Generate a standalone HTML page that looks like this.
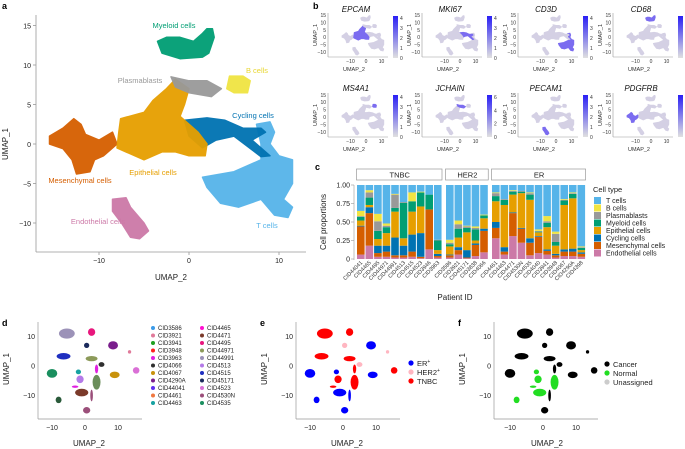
<!DOCTYPE html>
<html><head><meta charset="utf-8"><style>
html,body{margin:0;padding:0;background:#fff;}
svg{display:block;font-family:"Liberation Sans",sans-serif;}
</style></head><body>
<svg id="fig" width="685" height="449" viewBox="0 0 685 449" xmlns="http://www.w3.org/2000/svg">
<g id="pa"></g>
<g id="pb"></g>
<g id="pc"></g>
<g id="pd"></g>
<g id="pe"></g>
<g id="pf"></g>
</svg>
<script>
// ---------- panel c data ----------
const patients = ["CID44041","CID4465","CID4495","CID44971","CID44991","CID4513","CID4515","CID4523","CID3946","CID3963",
 "CID3586","CID3921","CID45171","CID3838","CID4066",
 "CID4461","CID4463","CID4471","CID4530N","CID4535","CID4040","CID3941","CID3948","CID4067","CID4290A","CID4398"];
const subtypes = ["TNBC","HER2","ER"];
const subtypeCounts = [10,5,11];
const cellTypes = ["T cells","B cells","Plasmablasts","Myeloid cells","Epithelial cells","Cycling cells","Mesenchymal cells","Endothelial cells"];
const endoVals = [.06,.18,.03,.03,.02,.02,.03,.01,.13,.02, .02,.06,.01,.04,.09, .28,.06,.31,.22,.05,.08,.06,.02,.04,.04,.03];
const mesVals  = [.38,.44,.05,.07,.03,.03,.07,.02,.54,.02, .03,.06,.01,.15,.29, .14,.04,.31,.19,.17,.22,.05,.03,.06,.06,.04];
const cycVals  = [.01,.08,.10,.08,.24,.13,.23,.32,0,.03, .01,.04,.10,.02,.03, .08,.06,.01,.01,.06,.01,.02,.02,.03,.04,.02];
const epiVals  = [.07,.03,.09,.17,.35,.10,.31,.36,0,.05, .11,.13,.24,.04,.14, .28,.57,.24,.47,.52,.05,.30,.11,.60,.68,.03];
const myeVals  = [.05,.10,.11,.08,.05,.48,.14,.19,.20,.13, .03,.12,.06,.15,.04, .07,.07,.04,.02,.07,.01,.06,.05,.06,.06,.03];
const plaVals  = [.01,.07,.13,.02,.18,.01,0,0,0,.01, .02,.06,.02,.02,0, .04,.01,.01,.01,.02,.01,.02,.11,.01,.01,.01];
const bVals    = [.07,.03,.10,.03,.01,0,.12,.01,0,0, .04,.05,.01,.02,.01, .01,0,.01,0,.01,.02,.07,.03,.01,.01,.01];
const yTicks = [0,0.25,0.5,0.75,1];
const yTickLabels = ["0","0.25","0.50","0.75","1.00"];

const NS="http://www.w3.org/2000/svg";
function mk(tag,attrs,parent,text){const e=document.createElementNS(NS,tag);for(const k in attrs)e.setAttribute(k,attrs[k]);if(text!==undefined)e.textContent=text;parent.appendChild(e);return e;}

const COL={T:"#56B4E9",B:"#F0E442",P:"#999999",M:"#009E73",Ep:"#E69F00",C:"#0072B2",Me:"#D55E00",En:"#CC79A7"};

// ---------- cluster polygons (UMAP coords) ----------
const clusters = {
 Me:[[-15.5,1],[-14,2],[-12.8,3.2],[-12,2.5],[-11.5,1.2],[-10,0.5],[-8.5,1.5],[-8,0],[-9.5,-1.5],[-10.5,-2],[-11,-3.5],[-12.5,-3.8],[-13,-2],[-14,-0.6],[-15.5,0]],
 Ep:[[-7.6,3.2],[-5,4],[-4,5.5],[-2.5,7],[-1.5,8.2],[0,7],[-0.5,5],[-1,3.5],[1,1.5],[2,0],[1.8,-1.5],[0,-1.5],[-1.5,-1],[-3,-1],[-5,-2],[-7,-1],[-8,-0.5],[-7.8,1.5]],
 C:[[-0.5,3],[2,3.3],[4,3],[6,2],[8,2],[8.5,1.5],[7,0.5],[9,-1.5],[8,-1.6],[5,1],[3,0.5],[1.5,-0.5],[0,1]],
 T:[[7.5,2.5],[9,2.8],[9.5,1.5],[9,0],[10,-1.5],[11.5,-2],[11.5,-5],[10.5,-7],[11.5,-8],[11,-9.3],[9.5,-9],[8,-7],[5.5,-8],[3.5,-7.5],[2,-5.5],[1.5,-4.2],[5,-3.5],[8,-2],[8,0]],
 M:[[-3.5,13],[-2.5,13.5],[-1,13.5],[0.5,13],[1.5,14],[2,14.6],[2.6,14.6],[2.8,13.5],[2.2,11.5],[1.5,11],[-1,10.8],[-3,11.5]],
 P:[[-2,8.5],[0,8],[2,8],[3.6,7],[2.5,6],[0,6.5],[-1.5,7.2]],
 B:[[4.5,8.6],[6,8.6],[6.8,8],[6.5,6.5],[5,6.5],[4.2,7]],
 En:[[-8.5,-7],[-7,-6.8],[-6.5,-8],[-5,-10],[-4.5,-11],[-5.5,-12],[-6.5,-11.8],[-7.5,-10],[-8.5,-8.5]]
};
const clusterOrder=["Me","T","C","Ep","P","M","B","En"];
const clusterNames={Me:"mesenchymal",T:"t-cells",C:"cycling",Ep:"epithelial",P:"plasmablasts",M:"myeloid",B:"b-cells",En:"endothelial"};
function pts(poly,fx,fy){return poly.map(p=>fx(p[0]).toFixed(1)+","+fy(p[1]).toFixed(1)).join(" ");}

// ---------- panel a ----------
(function(){
 const g=document.getElementById("pa");
 const x=u=>189+9*u, y=v=>144-7.9*v;
 mk("text",{x:2,y:9,"font-size":9,"font-weight":"bold"},g,"a");
 for(const k of clusterOrder){
  const p=mk("polygon",{points:pts(clusters[k],x,y),fill:COL[k],"stroke":COL[k],"stroke-width":1.5,"stroke-linejoin":"round",opacity:0.95},g);
  
  
 }
 mk("line",{x1:36,y1:15,x2:36,y2:252,stroke:"#999","stroke-width":0.8},g);
 mk("line",{x1:36,y1:252,x2:306,y2:252,stroke:"#999","stroke-width":0.8},g);
 [-10,-5,0,5,10,15].forEach(v=>{mk("line",{x1:33,x2:36,y1:y(v),y2:y(v),stroke:"#999","stroke-width":0.8},g);
  const t=mk("text",{x:31,y:y(v)+3,"font-size":7,"text-anchor":"end",fill:"#222"},g,v<0?"−"+(-v):v);});
 [-10,0,10].forEach(u=>{mk("line",{x1:x(u),x2:x(u),y1:252,y2:255,stroke:"#999","stroke-width":0.8},g);
  const t=mk("text",{x:x(u),y:263,"font-size":7,"text-anchor":"middle",fill:"#222"},g,u<0?"−"+(-u):u);});
 const xt=mk("text",{x:171,y:280,"font-size":8,"text-anchor":"middle",fill:"#222"},g,"UMAP_2");
 const yt=mk("text",{x:0,y:0,"font-size":8,"text-anchor":"middle",fill:"#222",transform:"translate(8,144) rotate(-90)"},g,"UMAP_1");
 const labs=[["Myeloid cells",174,28,COL.M],["B cells",257,73,"#E8D630"],["Plasmablasts",140,83,COL.P],["Cycling cells",253,118,COL.C],
  ["Epithelial cells",153,175,COL.Ep],["Mesenchymal cells",80,183,COL.Me],["T cells",267,228,COL.T],["Endothelial cells",98,224,COL.En]];
 labs.forEach(l=>{const t=mk("text",{x:l[1],y:l[2],"font-size":7.5,"text-anchor":"middle",fill:l[3]},g,l[0]);});
})();

// ---------- panel b ----------
(function(){
 const g=document.getElementById("pb");
 mk("text",{x:313,y:9,"font-size":9,"font-weight":"bold"},g,"b");
 const genes=[["EPCAM","Ep","4"],["MKI67","C","4"],["CD3D","T","4"],["CD68","M","4"],["MS4A1","B","4"],["JCHAIN","P","6"],["PECAM1","En","4"],["PDGFRB","Me","4"]];
 const x0s=[366,460,556,651];
 genes.forEach((gn,i)=>{
  const col=i%4,row=Math.floor(i/4);
  const X0=x0s[col], Y0=row?117:37.2, bot=row?137:57;
  const x=u=>X0+1.55*u, y=v=>Y0-1.48*v;
  const sg=mk("g",{},g);
  for(const k of clusterOrder){
   const hi=k===gn[1];
   mk("polygon",{points:pts(clusters[k],x,y),fill:hi?"#7b6cf0":"#d4d0e4",stroke:hi?"#7b6cf0":"#d4d0e4","stroke-width":0.8,"stroke-linejoin":"round"},sg);
  }
  const ax=X0-38;
  mk("line",{x1:ax,y1:bot-44,x2:ax,y2:bot,stroke:"#999","stroke-width":0.6},sg);
  mk("line",{x1:ax,y1:bot,x2:X0+22,y2:bot,stroke:"#999","stroke-width":0.6},sg);
  [-10,-5,0,5,10,15].forEach(v=>{mk("text",{x:ax-2,y:y(v)+2,"font-size":5,"text-anchor":"end",fill:"#333"},sg,v<0?"−"+(-v):v);});
  [-10,0,10].forEach(u=>{mk("text",{x:x(u),y:bot+6,"font-size":5,"text-anchor":"middle",fill:"#333"},sg,u<0?"−"+(-u):u);});
  mk("text",{x:X0-12,y:bot+14,"font-size":5.5,"text-anchor":"middle",fill:"#333"},sg,"UMAP_2");
  mk("text",{x:0,y:0,"font-size":5.5,"text-anchor":"middle",fill:"#333",transform:`translate(${ax-11},${bot-22}) rotate(-90)`},sg,"UMAP_1");
  const tt=mk("text",{x:X0-10,y:row?91:12,"font-size":8,"font-style":"italic","text-anchor":"middle",fill:"#111"},sg,gn[0]);
  const gid="grad"+i;const lg=mk("linearGradient",{id:gid,x1:0,y1:1,x2:0,y2:0},sg);
  mk("stop",{offset:0,"stop-color":"#e0e0e0"},lg);mk("stop",{offset:1,"stop-color":"#2a1ff5"},lg);
  const cbx=X0+27, cbt=row?95:16, cbh=42;
  const cb=mk("rect",{x:cbx,y:cbt,width:5,height:cbh,fill:`url(#${gid})`},sg);
  const mx=+gn[2];const step=mx>4?2:1;
  for(let v=0;v<=mx;v+=step){mk("text",{x:cbx+7,y:cbt+cbh-v/mx*cbh*0.95+2,"font-size":5,fill:"#333"},sg,v);}
 });
})();

// ---------- panel c ----------
(function(){
 const g=document.getElementById("pc");
 mk("text",{x:315,y:170,"font-size":9,"font-weight":"bold"},g,"c");
 const y=v=>259-74*v;
 const facetStarts=[357,446,492], pitch=8.55, bw=7.6;
 const series=[endoVals,mesVals,cycVals,epiVals,myeVals,plaVals,bVals];
 const sCols=[COL.En,COL.Me,COL.C,COL.Ep,COL.M,COL.P,COL.B];
 const sNames=["endothelial","mesenchymal","cycling","epithelial","myeloid","plasmablasts","b-cells"];
 let idx=0;
 subtypes.forEach((st,f)=>{
  const xs=facetStarts[f], w=subtypeCounts[f]*pitch;
  const r=mk("rect",{x:xs-0.5,y:169,width:w,height:11,fill:"#fff",stroke:"#999","stroke-width":0.7},g);
  mk("text",{x:xs+w/2,y:177.5,"font-size":7.5,"text-anchor":"middle",fill:"#222"},g,st);
  for(let j=0;j<subtypeCounts[f];j++,idx++){
   const bx=xs+j*pitch; let cum=0;
   for(let s=0;s<series.length;s++){
    const v=series[s][idx];
    const rr=mk("rect",{x:bx,y:y(cum+v),width:bw,height:Math.max(0,74*v),fill:sCols[s]},g);
    
    
    cum+=v;
   }
   const tr=mk("rect",{x:bx,y:y(1),width:bw,height:Math.max(0,y(cum)-y(1)),fill:COL.T},g);
   
   
   const cx=bx+bw/2;
   const lt=mk("text",{x:0,y:0,"font-size":5.5,"text-anchor":"end",fill:"#333",transform:`translate(${cx+2},${263}) rotate(-45)`},g,patients[idx]);
   
  }
 });
 mk("line",{x1:354,y1:185,x2:354,y2:260,stroke:"#999","stroke-width":0.6},g);
 yTicks.forEach((v,i)=>{mk("line",{x1:351,x2:354,y1:y(v),y2:y(v),stroke:"#999","stroke-width":0.6},g);
  mk("text",{x:350,y:y(v)+2.5,"font-size":7,"text-anchor":"end",fill:"#222"},g,yTickLabels[i]);});
 mk("text",{x:0,y:0,"font-size":8,"text-anchor":"middle",fill:"#222",transform:"translate(326,222) rotate(-90)"},g,"Cell proportions");
 mk("text",{x:455,y:300,"font-size":8,"text-anchor":"middle",fill:"#222"},g,"Patient ID");
 mk("text",{x:593,y:192,"font-size":7.5,fill:"#222"},g,"Cell type");
 const lc=[COL.T,COL.B,COL.P,COL.M,COL.Ep,COL.C,COL.Me,COL.En];
 cellTypes.forEach((n,i)=>{const yy=197+i*7.5;
  const le=mk("g",{},g);
  mk("rect",{x:594,y:yy,width:7,height:7,fill:lc[i]},le);
  mk("text",{x:606,y:yy+6,"font-size":7,fill:"#222"},le,n);});
})();

// ---------- panels d,e,f ----------
const blobs=[
 [-5.5,11,2.4,1.7,'#9C92B8','T','C'],[2,11.5,1.1,1.3,'#E8177D','T','C'],[0.5,7,0.8,0.9,'#1B2A5C','H','C'],
 [8.5,7,1.5,1.4,'#7A1E8C','E','C'],[13.5,4.8,0.5,0.6,'#E07A9A','H','C'],[15.5,-1.5,1,1.1,'#DA70D6','T','C'],
 [-6.5,3.3,2.1,1.1,'#1F2FC0','T','C'],[2,2.5,1.8,0.9,'#8C9A5A','T','C'],[5,0.5,0.9,0.8,'#2F2F2F','H','C'],
 [9,-3,1.5,1.1,'#C8920C','E','C'],[-10,-2.5,1.6,1.5,'#1A8F5F','E','C'],[-2,-2,0.8,0.8,'#17A2A2','E','N'],
 [-1.5,-4.5,1.1,1.3,'#B47AE8','T','N'],[3.5,-5.5,1.2,2.5,'#6B8E5A','T','N'],[-1,-9,2,1.3,'#7A3A2A','E','N'],
 [0.5,-15,1.1,1.1,'#9B4F7A','E','C'],[-8,-11.5,0.9,1.1,'#2A5A3A','E','N'],[2,-10,0.4,2,'#9B4F7A','E','C'],
 [3.5,-1,0.5,1.5,'#E020E0','T','C'],[-3,-7,1,0.4,'#E020E0','T','N']
];
const eColor={E:'#0000FF',H:'#FFB6C1',T:'#FF0000'};
const fColor={C:'#000000',N:'#22DD22',U:'#cccccc'};
const dNames=["CID3586","CID3921","CID3941","CID3948","CID3963","CID4066","CID4067","CID4290A","CID44041","CID4461","CID4463",
 "CID4465","CID4471","CID4495","CID44971","CID44991","CID4513","CID4515","CID45171","CID4523","CID4530N","CID4535"];
const dCols=["#3C9BE8","#E07A9A","#20A020","#FF2020","#E020E0","#2F2F2F","#C8920C","#7A1E8C","#6030F0","#F07840","#17A2A2",
 "#FF10D0","#7A3A2A","#E8177D","#8C9A5A","#9C92B8","#B47AE8","#1F2FC0","#1B2A5C","#DA70D6","#9B4F7A","#1A8F5F"];
function umapPanel(id,label,x0,axisX,colorFn){
 const g=document.getElementById(id);
 const x=u=>x0+3.3*u, y=v=>366-2.95*v;
 mk("text",{x:axisX-36,y:326,"font-size":9,"font-weight":"bold"},g,label);
 blobs.forEach(b=>{const e=mk("ellipse",{cx:x(b[0]),cy:y(b[1]),rx:3.3*b[2],ry:2.95*b[3],fill:colorFn(b)},g);
  });
 mk("line",{x1:axisX,y1:322,x2:axisX,y2:419,stroke:"#999","stroke-width":0.7},g);
 mk("line",{x1:axisX,y1:419,x2:axisX+104,y2:419,stroke:"#999","stroke-width":0.7},g);
 [-10,0,10].forEach(v=>{mk("text",{x:axisX-3,y:y(v)+2.5,"font-size":7,"text-anchor":"end",fill:"#222"},g,v<0?"−"+(-v):v);});
 [-10,0,10].forEach(u=>{mk("text",{x:x(u),y:430,"font-size":7,"text-anchor":"middle",fill:"#222"},g,u<0?"−"+(-u):u);});
 mk("text",{x:x0+4,y:446,"font-size":8,"text-anchor":"middle",fill:"#222"},g,"UMAP_2");
 mk("text",{x:0,y:0,"font-size":8,"text-anchor":"middle",fill:"#222",transform:`translate(${axisX-29},369) rotate(-90)`},g,"UMAP_1");
 return g;
}
(function(){
 const g=umapPanel("pd","d",85,38,b=>b[4]);
 dNames.forEach((n,i)=>{const c=i<11?0:1, r=i%11; const xx=c?202:153, yy=330+r*7.5;
  const le=mk("g",{},g);
  mk("circle",{cx:xx,cy:yy-2,r:2,fill:dCols[i]},le);
  mk("text",{x:xx+5,y:yy,"font-size":6,fill:"#222"},le,n);});
 const g2=umapPanel("pe","e",343,296,b=>eColor[b[5]]);
 [["ER","+","#0000FF"],["HER2","+","#FFB6C1"],["TNBC","","#FF0000"]].forEach((l,i)=>{const yy=366+i*9;
  const le=mk("g",{},g2);
  mk("circle",{cx:411,cy:yy-3,r:2.6,fill:l[2]},le);
  const t=mk("text",{x:417,y:yy,"font-size":7.5,fill:"#222"},le,l[0]);
  if(l[1]){mk("tspan",{"font-size":5,dy:-3},t,l[1]);}});
 const g3=umapPanel("pf","f",543,494,b=>fColor[b[6]]);
 [["Cancer","#000"],["Normal","#22DD22"],["Unassigned","#ccc"]].forEach((l,i)=>{const yy=367+i*9;
  const le=mk("g",{},g3);
  mk("circle",{cx:607,cy:yy-3,r:2.6,fill:l[1]},le);
  mk("text",{x:613,y:yy,"font-size":7.5,fill:"#222"},le,l[0]);});
})();
</script>
</body></html>
